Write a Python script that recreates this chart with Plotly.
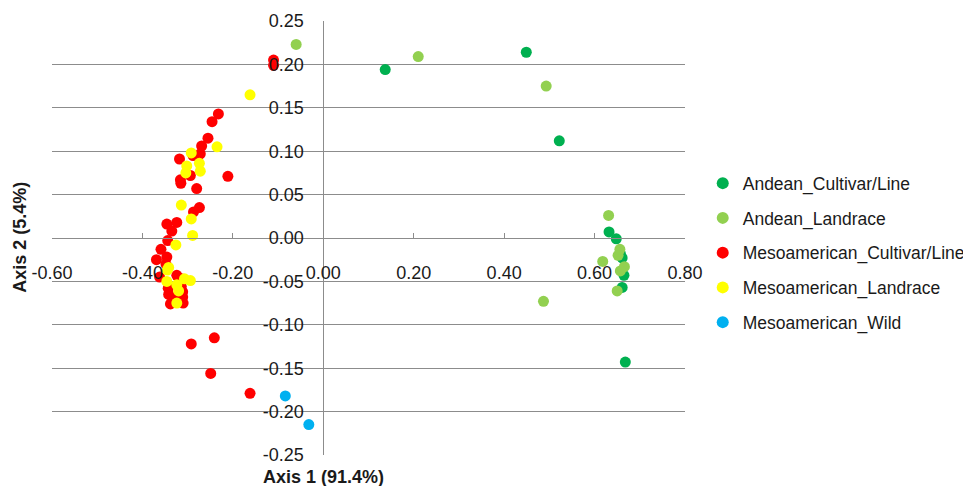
import plotly.graph_objects as go

# ---- data ----
andean_cult_x = [0.137, 0.449, 0.522, 0.632, 0.648, 0.657, 0.661, 0.665, 0.661, 0.668]
andean_cult_y = [0.194, 0.214, 0.112, 0.007, -0.001, -0.018, -0.023, -0.043, -0.057, -0.143]

andean_land_x = [-0.060, 0.210, 0.493, 0.631, 0.618, 0.656, 0.666, 0.657, 0.650, 0.487, 0.652]
andean_land_y = [0.223, 0.209, 0.175, 0.026, -0.027, -0.013, -0.033, -0.038, -0.061, -0.073, -0.020]

meso_cult_x = [-0.110, -0.110, -0.232, -0.246, -0.255, -0.269, -0.272, -0.288, -0.318, -0.294,
               -0.316, -0.315, -0.211, -0.280, -0.274, -0.287, -0.346, -0.324, -0.335, -0.344,
               -0.359, -0.346, -0.369, -0.348, -0.362, -0.324, -0.314, -0.343, -0.314, -0.311,
               -0.342, -0.311, -0.333, -0.338, -0.310, -0.241, -0.292, -0.249, -0.162]
meso_cult_y = [0.205, 0.199, 0.143, 0.134, 0.115, 0.106, 0.097, 0.095, 0.091, 0.072,
               0.067, 0.063, 0.071, 0.057, 0.035, 0.030, 0.016, 0.018, 0.008, -0.003,
               -0.013, -0.022, -0.025, -0.030, -0.045, -0.043, -0.047, -0.058, -0.056, -0.062,
               -0.065, -0.068, -0.069, -0.076, -0.075, -0.115, -0.122, -0.156, -0.179]

meso_land_x = [-0.162, -0.235, -0.292, -0.274, -0.302, -0.272, -0.304, -0.314, -0.292, -0.289,
               -0.326, -0.342, -0.345, -0.346, -0.294, -0.307, -0.324, -0.320, -0.324]
meso_land_y = [0.165, 0.105, 0.098, 0.086, 0.083, 0.077, 0.075, 0.038, 0.022, 0.003,
               -0.008, -0.034, -0.037, -0.050, -0.049, -0.047, -0.054, -0.061, -0.075]

meso_wild_x = [-0.084, -0.032]
meso_wild_y = [-0.182, -0.215]

series_names = ["Andean_Cultivar/Line", "Andean_Landrace", "Mesoamerican_Cultivar/Line",
                "Mesoamerican_Landrace", "Mesoamerican_Wild"]
series_colors = ["#00B050", "#92D050", "#FF0000", "#FFFF00", "#00B0F0"]

x_tickvals = [-0.6, -0.4, -0.2, 0.0, 0.2, 0.4, 0.6, 0.8]
x_ticktext = ["-0.60", "-0.40", "-0.20", "0.00", "0.20", "0.40", "0.60", "0.80"]
y_tickvals = [-0.25, -0.2, -0.15, -0.1, -0.05, 0.0, 0.05, 0.1, 0.15, 0.2, 0.25]
y_ticktext = ["-0.25", "-0.20", "-0.15", "-0.10", "-0.05", "0.00", "0.05", "0.10", "0.15", "0.20", "0.25"]

xs = [andean_cult_x, andean_land_x, meso_cult_x, meso_land_x, meso_wild_x]
ys = [andean_cult_y, andean_land_y, meso_cult_y, meso_land_y, meso_wild_y]

FONT = "Liberation Sans, Arial, sans-serif"
GRID = "#8C8C8C"

fig = go.Figure()
for name, col, x, y in zip(series_names, series_colors, xs, ys):
    fig.add_trace(go.Scatter(
        x=x, y=y, mode="markers", name=name, legendgroup=name,
        marker=dict(color=col, size=11, line=dict(width=0)),
    ))

# the page body has an 8px margin, so the figure is sized/offset to compensate
fig.update_layout(
    width=963, height=478,
    margin=dict(l=44, r=286, t=13, b=31, autoexpand=False),
    paper_bgcolor="white", plot_bgcolor="white",
    font=dict(family=FONT, size=18, color="#1a1a1a"),
    showlegend=True,
    legend=dict(x=1.028, xanchor="left", y=0.466, yanchor="middle",
                font=dict(size=17.5), tracegroupgap=9, itemsizing="constant",
                bgcolor="rgba(0,0,0,0)"),
    xaxis=dict(range=[-0.6, 0.8], tickvals=x_tickvals, ticktext=x_ticktext,
               showgrid=False, zeroline=False, showline=True, linecolor=GRID, linewidth=1,
               ticks="inside", ticklen=5, tickcolor=GRID, automargin=False,
               anchor="free", position=0.5, ticklabelstandoff=18,
               tickfont=dict(size=18, color="#1a1a1a")),
    yaxis=dict(range=[-0.25, 0.25], tickvals=y_tickvals, ticktext=y_ticktext,
               showgrid=True, gridcolor=GRID, gridwidth=1, zeroline=False,
               showline=True, linecolor=GRID, linewidth=1, ticks="", automargin=False,
               anchor="free", position=0.6 / 1.4, ticklabelstandoff=16,
               tickfont=dict(size=18, color="#1a1a1a")),
    annotations=[
        dict(text="<b>Axis 1 (91.4%)</b>", x=0.0, xref="x", y=-0.05, yref="paper",
             xanchor="center", yanchor="middle", showarrow=False,
             font=dict(size=18, color="#1a1a1a")),
        dict(text="<b>Axis 2 (5.4%)</b>", x=-0.051, xref="paper", y=0.502, yref="paper",
             xanchor="center", yanchor="middle", showarrow=False, textangle=-90,
             font=dict(size=18, color="#1a1a1a")),
    ],
)

fig.write_html("out.html")
